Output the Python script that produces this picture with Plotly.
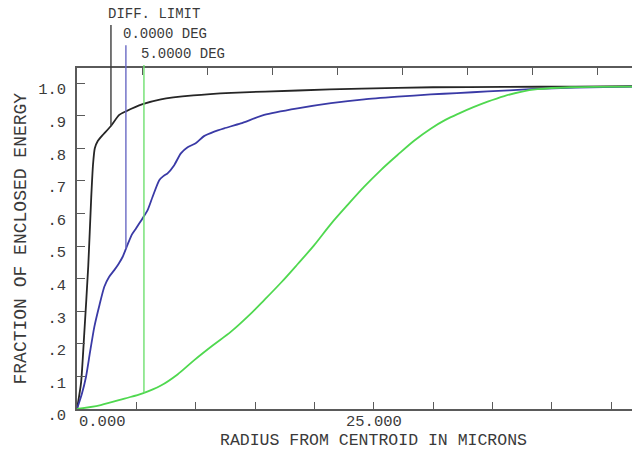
import numpy as np
import plotly.graph_objects as go

# Radius from centroid (microns) and fraction of enclosed energy for each curve
diff_r = [0, 0.34, 0.61, 0.95, 1.2, 1.35, 1.5, 1.75, 2.1, 2.86, 3.56, 4.12, 5.53, 7.07,
          9.8, 13.0, 18.6, 24.0, 30.0, 36.0, 42.0, 46.8]
diff_e = [0, 0.08, 0.23, 0.44, 0.65, 0.75, 0.80, 0.822, 0.838, 0.868, 0.902, 0.913, 0.935,
          0.950, 0.962, 0.970, 0.977, 0.983, 0.987, 0.988, 0.989, 0.990]

deg0_r = [0, 0.4, 0.76, 1.1, 1.46, 1.9, 2.3, 2.7, 3.14, 3.5, 3.85, 4.27, 4.62, 4.97, 5.53,
          5.95, 6.37, 6.93, 7.3, 7.63, 8.19, 8.75, 9.32, 10.0, 10.7, 11.56, 12.4, 13.8,
          15.77, 18.58, 21.4, 24.2, 27.0, 29.8, 32.0, 34.6, 38.2, 42.0, 46.8]
deg0_e = [0, 0.045, 0.099, 0.175, 0.252, 0.32, 0.375, 0.405, 0.426, 0.445, 0.467, 0.505,
          0.535, 0.554, 0.585, 0.610, 0.651, 0.702, 0.715, 0.723, 0.748, 0.784, 0.803,
          0.815, 0.837, 0.851, 0.861, 0.876, 0.902, 0.922, 0.938, 0.950, 0.958, 0.965,
          0.969, 0.974, 0.981, 0.986, 0.989]

deg5_r = [0, 2.0, 4.0, 5.53, 7.07, 8.47, 9.88, 11.4, 13.0, 14.4, 15.77, 17.2, 18.58, 19.97,
          21.4, 22.8, 24.2, 25.6, 27.0, 28.4, 29.8, 31.0, 32.2, 33.4, 34.6, 36.0, 37.4,
          38.8, 41.6, 46.8]
deg5_e = [0, 0.012, 0.032, 0.048, 0.072, 0.106, 0.150, 0.194, 0.238, 0.284, 0.334, 0.388,
          0.444, 0.502, 0.568, 0.626, 0.682, 0.733, 0.779, 0.823, 0.860, 0.886, 0.907,
          0.926, 0.943, 0.960, 0.973, 0.981, 0.987, 0.989]

curve_names = ["DIFF. LIMIT", "0.0000 DEG", "5.0000 DEG"]
curve_colors = ["#262626", "#3a3aa6", "#4fd84f"]
curve_smoothing = [0.6, 0.6, 1.0]
leader_colors = ["#3c3c3c", "#6a6ac4", "#6fe06f"]
leader_r = [2.86, 4.12, 5.64]          # where each label's leader meets its curve
label_top = [1.126, 1.067, 1.009]      # leader tops, as a fraction of plot height

y_tick_vals = [0.0, 0.1, 0.2, 0.3, 0.4, 0.5, 0.6, 0.7, 0.8, 0.9, 1.0]
y_tick_text = [".0", ".1", ".2", ".3", ".4", ".5", ".6", ".7", ".8", ".9", "1.0"]
x_tick_vals = [0, 25]
x_tick_text = ["0.000", "25.000"]
x_tick_anchor = ["left", "center"]

x_max = 46.76
y_max = 1.046
top_tick_step = 5.48

FONT = "Liberation Mono, DejaVu Sans Mono, monospace"
TXT = "#3a3a3a"
AX = "#5a5a5a"

fig = go.Figure()
series = [(diff_r, diff_e), (deg0_r, deg0_e), (deg5_r, deg5_e)]
for (r, e), name, col, sm in zip(series, curve_names, curve_colors, curve_smoothing):
    fig.add_trace(go.Scatter(x=r, y=e, mode="lines", name=name,
                             line=dict(color=col, width=1.8, shape="spline", smoothing=sm)))

# invisible trace that carries the top tick axis
fig.add_trace(go.Scatter(x=[0, x_max], y=[0, 0], xaxis="x2", mode="lines",
                         line=dict(width=0), hoverinfo="skip", showlegend=False))

shapes = []
annotations = []
for (r, e), name, col, lx, top in zip(series, curve_names, leader_colors, leader_r, label_top):
    yv = float(np.interp(lx, r, e))
    shapes.append(dict(type="line", xref="x", yref="y", x0=lx, x1=lx, y0=yv, y1=y_max,
                       line=dict(color=col, width=1.4)))
    shapes.append(dict(type="line", xref="x", yref="paper", x0=lx, x1=lx, y0=1, y1=top,
                       line=dict(color=col, width=1.4)))
    annotations.append(dict(text=name, xref="x", yref="paper", x=lx, y=top,
                            xanchor="left", yanchor="bottom", xshift=-5, yshift=1,
                            showarrow=False, font=dict(family=FONT, size=14, color=TXT)))

for v, t, a in zip(x_tick_vals, x_tick_text, x_tick_anchor):
    annotations.append(dict(text=t, xref="x", yref="paper", x=v, y=0, xanchor=a,
                            yanchor="middle", yshift=-13, showarrow=False,
                            font=dict(family=FONT, size=15.5, color=TXT)))

annotations.append(dict(text="RADIUS FROM CENTROID IN MICRONS", xref="x", yref="paper",
                        x=25, y=0, yshift=-31, xanchor="center", yanchor="middle",
                        showarrow=False, font=dict(family=FONT, size=16.5, color=TXT)))
annotations.append(dict(text="FRACTION OF ENCLOSED ENERGY", xref="paper", yref="paper",
                        x=0, y=0.5, xshift=-57, textangle=-90, xanchor="center",
                        yanchor="middle", showarrow=False,
                        font=dict(family=FONT, size=18, color=TXT)))

fig.update_layout(
    width=632, height=452,
    margin=dict(l=77, r=0, t=68, b=43),
    paper_bgcolor="white", plot_bgcolor="white",
    showlegend=False,
    shapes=shapes, annotations=annotations,
    xaxis=dict(range=[0, x_max], showgrid=False, zeroline=False,
               showline=True, linecolor=AX, linewidth=1.5, mirror=False,
               ticks="inside", ticklen=7, tickcolor=AX, tickwidth=1.3,
               tick0=0, dtick=5, showticklabels=False),
    xaxis2=dict(range=[0, x_max], overlaying="x", side="top", showgrid=False,
                zeroline=False, showline=True, linecolor=AX, linewidth=1.5,
                ticks="inside", ticklen=7, tickcolor=AX, tickwidth=1.3,
                tick0=0, dtick=top_tick_step, showticklabels=False),
    yaxis=dict(range=[0, y_max], showgrid=False, zeroline=False,
               showline=True, linecolor=AX, linewidth=1.5,
               ticks="inside", ticklen=8, tickcolor=AX, tickwidth=1.3,
               tickvals=y_tick_vals, ticktext=y_tick_text,
               ticklabelshift=6, ticklabelstandoff=6,
               tickfont=dict(family=FONT, size=15.5, color=TXT)),
)

fig.write_html("out.html")
